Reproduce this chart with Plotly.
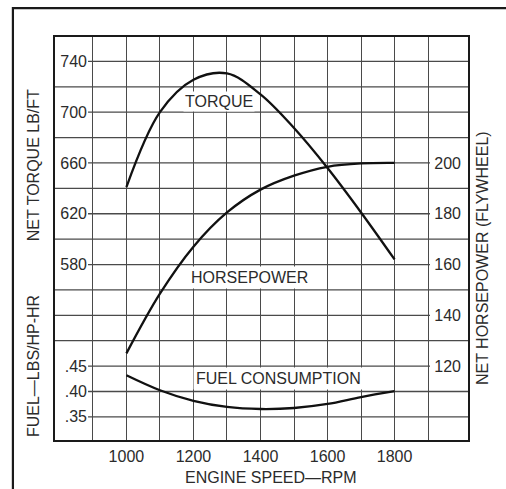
import plotly.graph_objects as go

# ---- data ----
rpm = [1000, 1100, 1200, 1300, 1400, 1500, 1600, 1700, 1800]
torque = [641, 700, 725.5, 730.5, 714, 687.5, 656, 621, 584]                 # lb-ft
horsepower = [125, 148.5, 167, 180.5, 189.5, 195, 198.5, 199.8, 200]         # hp
fuel = [0.432, 0.4025, 0.3815, 0.3695, 0.3655, 0.3675, 0.3755, 0.389, 0.4005]  # lbs/hp-hr

x_grid = list(range(900, 2000, 100))
x_labels = [str(v) if v in (1000, 1200, 1400, 1600, 1800) else "" for v in x_grid]
torque_grid = list(range(460, 760, 20))
torque_label_vals = [580, 620, 660, 700, 740]
torque_labels = [str(v) if v in torque_label_vals else "" for v in torque_grid]
hp_ticks = [120, 140, 160, 180, 200]
hp_labels = [str(v) for v in hp_ticks]
fuel_ticks = [0.35, 0.40, 0.45]
fuel_labels = [".35", ".40", ".45"]

FONT = "Liberation Sans, Arial, sans-serif"
TXT = "#2b2b2b"
LINE = "#111111"
GRID = "#4a4a4a"

X_RANGE = [784, 2022]
T_RANGE = [441, 760]
HP_RANGE = [90.5, 250]
F_RANGE = [0.3025, 1.1]

fig = go.Figure()
fig.add_trace(go.Scatter(x=rpm, y=torque, mode="lines", line=dict(color=LINE, width=2.3, shape="spline"),
                         yaxis="y", showlegend=False, hoverinfo="skip"))
fig.add_trace(go.Scatter(x=rpm, y=horsepower, mode="lines", line=dict(color=LINE, width=2.3, shape="spline"),
                         yaxis="y2", showlegend=False, hoverinfo="skip"))
fig.add_trace(go.Scatter(x=rpm, y=fuel, mode="lines", line=dict(color=LINE, width=2.3, shape="spline"),
                         yaxis="y3", showlegend=False, hoverinfo="skip"))

tickfont = dict(family=FONT, size=16, color=TXT)
LEFT_POS = 0.082    # fraction of plot width taken by the inside left labels
RIGHT_POS = 0.906   # fraction where the inside right labels begin

fig.update_layout(
    width=506, height=489,
    margin=dict(l=54, r=37, t=36, b=48, autoexpand=False),
    paper_bgcolor="white", plot_bgcolor="white",
    font=dict(family=FONT, color=TXT),
    xaxis=dict(range=X_RANGE, tickvals=x_grid, ticktext=x_labels, showgrid=True,
               gridcolor=GRID, gridwidth=1.3, zeroline=False, showline=False, ticks="",
               tickfont=tickfont, ticklabelstandoff=4, automargin=False),
    yaxis=dict(range=T_RANGE, tickvals=torque_grid, ticktext=torque_labels, showgrid=False,
               zeroline=False, showline=False, ticks="",
               anchor="free", position=LEFT_POS, side="left", tickfont=tickfont,
               ticklabelstandoff=1, automargin=False),
    yaxis2=dict(range=HP_RANGE, tickvals=hp_ticks, ticktext=hp_labels, overlaying="y",
                side="right", anchor="x", showgrid=False, zeroline=False, showline=False,
                ticks="", ticklabelposition="inside", tickfont=tickfont, ticklabelstandoff=5,
                automargin=False),
    yaxis3=dict(range=F_RANGE, tickvals=fuel_ticks, ticktext=fuel_labels, overlaying="y",
                side="left", anchor="free", position=LEFT_POS, showgrid=False, zeroline=False,
                showline=False, ticks="", tickfont=tickfont, ticklabelstandoff=1, automargin=False),
)


def to_torque(v, rng):
    """map a value on another y axis onto the torque axis (grid positions only)"""
    return T_RANGE[0] + (v - rng[0]) / (rng[1] - rng[0]) * (T_RANGE[1] - T_RANGE[0])


def xfrac(f):
    return X_RANGE[0] + f * (X_RANGE[1] - X_RANGE[0])


left_labelled = set(torque_label_vals) | {round(to_torque(v, F_RANGE)) for v in fuel_ticks}
right_labelled = {round(to_torque(v, HP_RANGE)) for v in hp_ticks}

shapes = []
# horizontal grid lines, interrupted where the inside tick labels sit
for t in torque_grid:
    x0 = xfrac(LEFT_POS) if t in left_labelled else X_RANGE[0]
    x1 = xfrac(RIGHT_POS) if t in right_labelled else X_RANGE[1]
    shapes.append(dict(type="line", xref="x", yref="y", x0=x0, x1=x1, y0=t, y1=t,
                       line=dict(color=GRID, width=1.3), layer="below"))
# plot frame
shapes.append(dict(type="rect", xref="paper", yref="paper", x0=0, x1=1, y0=0, y1=1,
                   line=dict(color="#1a1a1a", width=2), layer="above"))
# outer page frame (top and left edges)
shapes.append(dict(type="path", xref="paper", yref="paper",
                   path="M -0.099 -0.2 L -0.099 1.069 L 1.2 1.069",
                   line=dict(color="#1a1a1a", width=2.2), layer="above"))
fig.update_layout(shapes=shapes)

labfont = dict(family=FONT, size=16, color=TXT)
common = dict(showarrow=False, font=labfont, xanchor="center", yanchor="middle")
boxed = dict(common, bgcolor="white", borderpad=2)
annotations = [
    dict(x=1276, y=708.4, xref="x", yref="y", text="TORQUE", **dict(boxed, borderpad=1)),
    dict(x=1366, y=569.4, xref="x", yref="y", text="HORSEPOWER", **boxed),
    dict(x=1455, y=490.6, xref="x", yref="y", text="FUEL CONSUMPTION", **boxed),
    dict(x=-0.0506, y=0.681, xref="paper", yref="paper", text="NET TORQUE LB/FT", textangle=-90, **common),
    dict(x=-0.0506, y=0.185, xref="paper", yref="paper", text="FUEL—LBS/HP-HR", textangle=-90, **common),
    dict(x=1.034, y=0.452, xref="paper", yref="paper", text="NET HORSEPOWER (FLYWHEEL)", textangle=-90,
         **common),
    dict(x=0.523, y=-0.091, xref="paper", yref="paper", text="ENGINE SPEED—RPM", **common),
]
fig.update_layout(annotations=annotations)

fig.write_html("out.html", config={"displayModeBar": False},
               post_script="document.body.style.margin='0';document.body.style.overflow='hidden';")
